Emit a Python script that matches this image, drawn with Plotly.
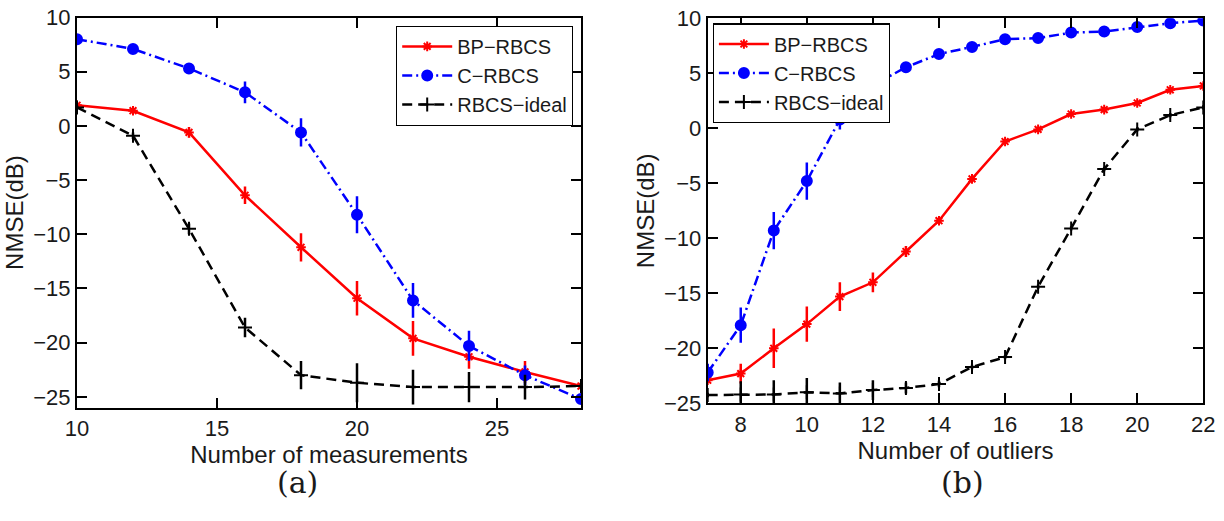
import plotly.graph_objects as go

# ---- Data: (a) NMSE vs number of measurements ----
meas = [10, 12, 14, 16, 18, 20, 22, 24, 26, 28]
bp_a = [1.9, 1.4, -0.6, -6.4, -11.2, -15.9, -19.6, -21.3, -22.7, -24.0]
bp_a_err = [0.2, 0.2, 0.5, 0.8, 1.3, 1.6, 1.6, 1.1, 1.0, 0.3]
c_a = [8.0, 7.1, 5.3, 3.1, -0.6, -8.2, -16.1, -20.3, -23.0, -25.2]
c_a_err = [0.1, 0.1, 0.5, 1.0, 1.3, 1.7, 1.6, 1.4, 0.9, 0.3]
id_a = [1.7, -0.9, -9.5, -18.6, -23.0, -23.7, -24.1, -24.1, -24.1, -24.0]
id_a_err = [0.2, 0.3, 0.5, 0.9, 1.3, 1.8, 1.6, 1.4, 1.15, 0.3]

# ---- Data: (b) NMSE vs number of outliers ----
outl = [7, 8, 9, 10, 11, 12, 13, 14, 15, 16, 17, 18, 19, 20, 21, 22]
bp_b = [-22.9, -22.3, -20.0, -17.8, -15.3, -14.0, -11.2, -8.4, -4.6, -1.2, -0.1, 1.3, 1.7, 2.3, 3.5, 3.85]
bp_b_err = [0.2, 0.9, 1.8, 1.6, 1.3, 0.9, 0.5, 0.3, 0.2, 0.2, 0.2, 0.2, 0.2, 0.2, 0.2, 0.2]
c_b = [-22.2, -17.9, -9.3, -4.8, 0.8, 3.9, 5.55, 6.75, 7.4, 8.1, 8.2, 8.7, 8.8, 9.2, 9.55, 9.8]
c_b_err = [0.8, 1.6, 1.7, 1.7, 0.9, 0.6, 0.4, 0.2, 0.2, 0.2, 0.2, 0.2, 0.2, 0.2, 0.2, 0.2]
id_b = [-24.25, -24.2, -24.2, -24.0, -24.1, -23.8, -23.6, -23.25, -21.7, -20.8, -14.4, -9.1, -3.7, -0.1, 1.2, 1.9]
id_b_err = [0.2, 1.2, 1.3, 1.3, 1.0, 0.9, 0.5, 0.3, 0.2, 0.2, 0.2, 0.2, 0.2, 0.2, 0.2, 0.2]

y_ticks = [-25, -20, -15, -10, -5, 0, 5, 10]
y_ticktext = ["\u221225", "\u221220", "\u221215", "\u221210", "\u22125", "0", "5", "10"]
xa_ticks = [10, 15, 20, 25]
xb_ticks = [8, 10, 12, 14, 16, 18, 20, 22]

names = ["BP\u2212RBCS", "C\u2212RBCS", "RBCS\u2212ideal"]

RED, BLUE, BLACK = "#ff0000", "#0000ff", "#000000"
styles = [
    dict(color=RED, dash="solid", symbol="asterisk-open", msize=8),
    dict(color=BLUE, dash="10px,4px,2px,4px", symbol="circle", msize=10),
    dict(color=BLACK, dash="10px,6px", symbol="cross-thin-open", msize=10),
]

fig = go.Figure()

def add_series(x, y, err, st, name, xa, ya, legend):
    fig.add_trace(go.Scatter(
        x=x, y=y, name=name, mode="lines+markers",
        xaxis=xa, yaxis=ya, legend=legend,
        line=dict(color=st["color"], width=2.5, dash=st["dash"]),
        marker=dict(symbol=st["symbol"], size=st["msize"], color=st["color"],
                    line=dict(color=st["color"], width=2)),
        error_y=dict(type="data", array=err, visible=True, width=0,
                     thickness=2.5, color=st["color"]),
    ))

for y, e, st, n in zip([bp_a, c_a, id_a], [bp_a_err, c_a_err, id_a_err], styles, names):
    add_series(meas, y, e, st, n, "x", "y", "legend")
for y, e, st, n in zip([bp_b, c_b, id_b], [bp_b_err, c_b_err, id_b_err], styles, names):
    add_series(outl, y, e, st, n, "x2", "y2", "legend2")

FONT = "Liberation Sans, Arial, Helvetica, sans-serif"
TXT = "#1a1a1a"
axcommon = dict(showline=True, linecolor="black", linewidth=2, mirror="ticks",
                ticks="inside", ticklen=10, tickwidth=1.5, tickcolor="black",
                showgrid=False, zeroline=False, automargin=False,
                tickfont=dict(family=FONT, size=22, color=TXT))
titlefont = dict(family=FONT, size=24, color=TXT)

fig.update_layout(
    width=1224, height=521,
    margin=dict(l=0, r=0, t=0, b=0, autoexpand=False),
    paper_bgcolor="white", plot_bgcolor="white",
    showlegend=True,
    xaxis=dict(domain=[77/1224, 581/1224], range=[10, 28], tickvals=xa_ticks,
               title=dict(text="Number of measurements", font=titlefont, standoff=3),
               anchor="y", **axcommon),
    yaxis=dict(domain=[1-407.7/521, 1-17.5/521], range=[-26, 10],
               tickvals=y_ticks, ticktext=y_ticktext,
               title=dict(text="NMSE(dB)", font=titlefont, standoff=3),
               anchor="x", **axcommon),
    xaxis2=dict(domain=[707.7/1224, 1203.3/1224], range=[7, 22], tickvals=xb_ticks,
                title=dict(text="Number of outliers", font=titlefont, standoff=3),
                anchor="y2", **axcommon),
    yaxis2=dict(domain=[1-403.3/521, 1-18.3/521], range=[-25, 10],
                tickvals=y_ticks, ticktext=y_ticktext,
                title=dict(text="NMSE(dB)", font=titlefont, standoff=3),
                anchor="x2", **axcommon),
    legend=dict(x=573/1224, y=1-25.7/521, xanchor="right", yanchor="top",
                bgcolor="white", bordercolor="black", borderwidth=1.2,
                font=dict(family=FONT, size=20, color=TXT),
                tracegroupgap=0, itemwidth=50),
    legend2=dict(x=712.7/1224, y=1-23.3/521, xanchor="left", yanchor="top",
                 bgcolor="white", bordercolor="black", borderwidth=1.2,
                 font=dict(family=FONT, size=20, color=TXT),
                 tracegroupgap=0, itemwidth=50),
    annotations=[
        dict(text="(a)", x=297/1224, y=1-482/521, xref="paper", yref="paper", showarrow=False,
             xanchor="center", yanchor="middle",
             font=dict(family="DejaVu Serif, Liberation Serif, serif", size=30, color=TXT)),
        dict(text="(b)", x=962/1224, y=1-482/521, xref="paper", yref="paper", showarrow=False,
             xanchor="center", yanchor="middle",
             font=dict(family="DejaVu Serif, Liberation Serif, serif", size=30, color=TXT)),
    ],
)

fig.write_html("out.html", config={"displayModeBar": False},
               post_script="document.body.style.margin='0';document.body.style.overflow='hidden';")
